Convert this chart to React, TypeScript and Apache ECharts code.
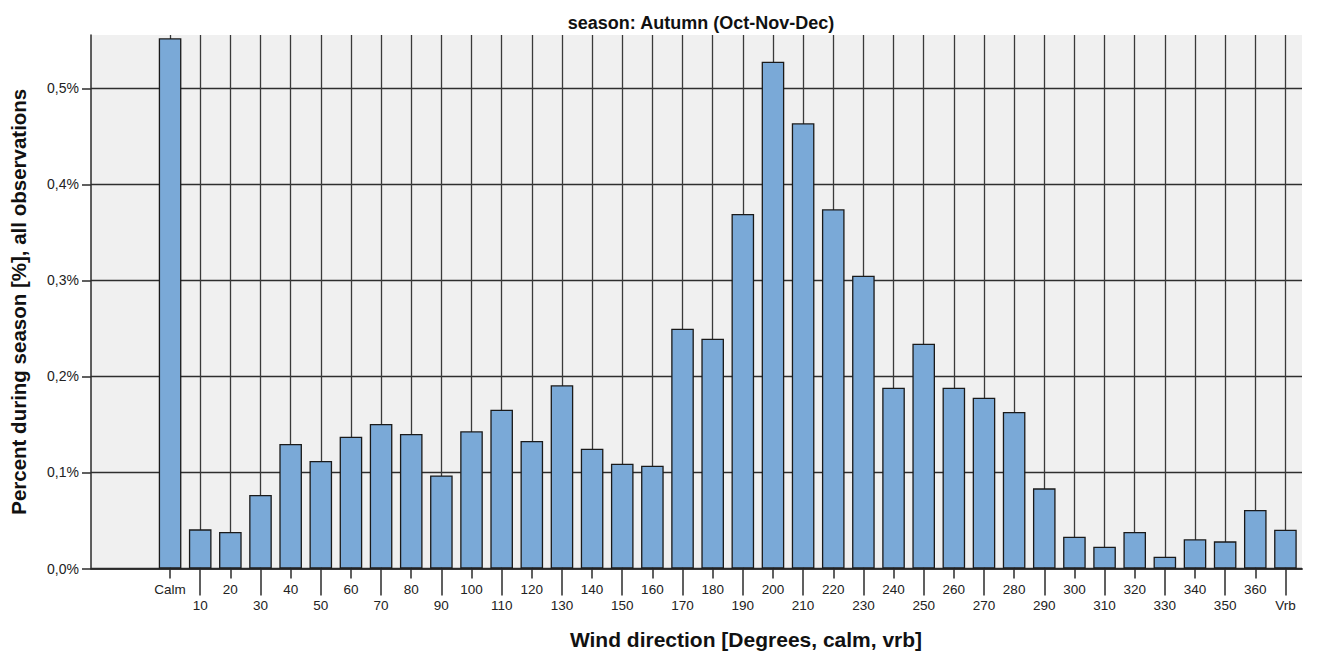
import React, { useEffect, useRef } from "react";
import * as echarts from "echarts";

const titleText = "season: Autumn (Oct-Nov-Dec)";
const xAxisName = "Wind direction [Degrees, calm, vrb]";
const yAxisName = "Percent during season [%], all observations";

const categories = [
  "Calm", "10", "20", "30", "40", "50", "60", "70", "80", "90",
  "100", "110", "120", "130", "140", "150", "160", "170", "180", "190",
  "200", "210", "220", "230", "240", "250", "260", "270", "280", "290",
  "300", "310", "320", "330", "340", "350", "360", "Vrb",
];

const percentValues = [
  0.5523, 0.0408, 0.038, 0.0766, 0.1297, 0.112, 0.1373, 0.1505, 0.1401, 0.0969,
  0.1429, 0.1654, 0.1328, 0.1908, 0.1248, 0.1092, 0.1071, 0.2498, 0.2394, 0.3693,
  0.5279, 0.4638, 0.3742, 0.305, 0.1883, 0.2342, 0.1883, 0.1779, 0.163, 0.0835,
  0.0331, 0.0227, 0.038, 0.0123, 0.0304, 0.0283, 0.0609, 0.0404,
];

const yTicks = [0, 0.1, 0.2, 0.3, 0.4, 0.5];
const yMax = 0.5557;

const FONT = "'Liberation Sans', Arial, sans-serif";
const DARK = "#2b2b2b";

export default function App() {
  const ref = useRef<HTMLDivElement>(null);

  useEffect(() => {
    if (!ref.current) return;
    const chart = echarts.init(ref.current, undefined, { renderer: "svg" });
    const fmt = (v: number) => v.toFixed(1).replace(".", ",") + "%";
    const option: any = {
      animation: false,
      backgroundColor: "#ffffff",
      title: [
        {
          text: titleText,
          left: 696,
          textAlign: "center",
          top: 9,
          textStyle: { fontFamily: FONT, fontSize: 18, fontWeight: "bold", color: "#111" },
        },
        {
          text: xAxisName,
          left: 741,
          textAlign: "center",
          top: 624,
          textStyle: { fontFamily: FONT, fontSize: 21, fontWeight: "bold", color: "#111" },
        },
      ],
      grid: [
        {
          left: 90, right: 15, top: 35, bottom: 84.5,
          show: true, backgroundColor: "#f0f0f0", borderWidth: 0,
        },
        { left: 155, right: 16.5, top: 35, bottom: 84.5, show: false },
      ],
      xAxis: [
        {
          gridIndex: 0, type: "value", min: 0, max: 1, position: "top",
          axisLine: { show: true, lineStyle: { color: DARK, width: 1.5 } },
          axisTick: { show: false }, axisLabel: { show: false }, splitLine: { show: false },
        },
        {
          gridIndex: 0, type: "value", min: 0, max: 1, position: "bottom",
          axisLine: { show: true, lineStyle: { color: DARK, width: 1.5 } },
          axisTick: { show: false }, axisLabel: { show: false }, splitLine: { show: false },
        },
        {
          gridIndex: 1, type: "category", data: categories, position: "bottom", offset: 0,
          axisLine: { show: false },
          axisTick: {
            show: true, alignWithLabel: true, length: 10,
            interval: (i: number) => i % 2 === 0,
            lineStyle: { color: DARK, width: 1.5 },
          },
          axisLabel: {
            interval: (i: number) => i % 2 === 0,
            margin: 14, fontFamily: FONT, fontSize: 13.5, color: "#222",
          },
          splitLine: {
            show: true, alignWithLabel: true, interval: 0,
            lineStyle: { color: "#3a3a3a", width: 1.3 },
          },
        },
        {
          gridIndex: 1, type: "category", data: categories, position: "bottom", offset: 0,
          axisLine: { show: false },
          axisTick: {
            show: true, alignWithLabel: true, length: 27,
            interval: (i: number) => i % 2 === 1,
            lineStyle: { color: DARK, width: 1.5 },
          },
          axisLabel: {
            interval: (i: number) => i % 2 === 1,
            margin: 29.5, fontFamily: FONT, fontSize: 13.5, color: "#222",
          },
          splitLine: { show: false },
        },
      ],
      yAxis: [
        {
          gridIndex: 0, type: "value", min: 0, max: yMax, interval: 0.1,
          name: yAxisName, nameLocation: "middle", nameGap: 62,
          nameTextStyle: { fontFamily: FONT, fontSize: 20.5, fontWeight: "bold", color: "#111" },
          axisLine: { show: true, lineStyle: { color: DARK, width: 1.5 } },
          axisTick: {
            show: true, inside: false, length: 9, customValues: yTicks,
            lineStyle: { color: DARK, width: 1.5 },
          },
          axisLabel: {
            customValues: yTicks, formatter: fmt, margin: 12,
            fontFamily: FONT, fontSize: 14, color: "#222",
          },
          splitLine: { show: true, lineStyle: { color: "#2e2e2e", width: 1.3 } },
        },
        {
          gridIndex: 1, type: "value", min: 0, max: yMax, show: false,
          splitLine: { show: false },
        },
      ],
      series: [
        {
          type: "bar",
          xAxisIndex: 2,
          yAxisIndex: 1,
          data: percentValues,
          barWidth: "75%",
          z: 5,
          itemStyle: { color: "#7aa9d7", borderColor: "#1a1a1a", borderWidth: 1.3 },
        },
      ],
    };
    chart.setOption(option);
    return () => chart.dispose();
  }, []);

  return (
    <div
      ref={ref}
      style={{ position: "fixed", left: 0, top: 0, width: 1317, height: 653 }}
    />
  );
}
